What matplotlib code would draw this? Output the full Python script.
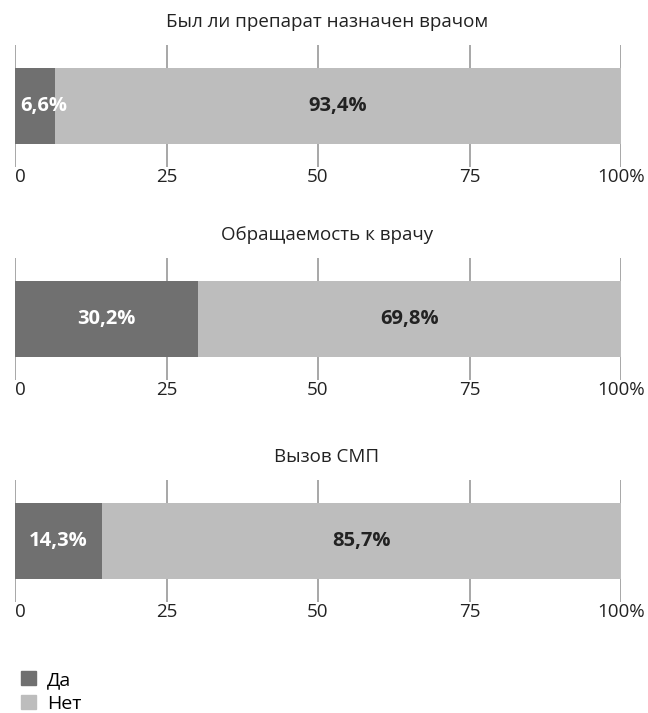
import matplotlib.pyplot as plt
from matplotlib.patches import Patch
from matplotlib import transforms

plt.rcParams['font.family'] = ['Open Sans', 'DejaVu Sans']

titles = ['Был ли препарат назначен врачом', 'Обращаемость к врачу', 'Вызов СМП']
yes_vals = [6.6, 30.2, 14.3]
no_vals = [93.4, 69.8, 85.7]
series_names = ['Да', 'Нет']
ticks = [0, 25, 50, 75, 100]
tick_labels = ['0', '25', '50', '75', '100%']

dark = '#707070'
light = '#bdbdbd'
grid_c = '#a0a0a0'
txt = '#222222'

W, H = 648, 713
fig = plt.figure(figsize=(W / 100, H / 100), dpi=100)

# pixel layout of the three panels (top edge of gridlines)
panel_tops = [45, 258, 480]
panel_h = 122
x0, x1 = 15, 621


def pct(v):
    return f'{v:.1f}%'.replace('.', ',')


for i in range(3):
    top = panel_tops[i]
    ax = fig.add_axes([x0 / W, 1 - (top + panel_h) / H, (x1 - x0) / W, panel_h / H])
    ax.set_xlim(0, 100)
    ax.set_ylim(0, 1)
    for t in ticks:
        ax.axvline(t, color=grid_c, lw=1.3, zorder=0)
    y, wbar = yes_vals[i], no_vals[i]
    ax.barh(0.5, y, height=0.615, left=0, color=dark, zorder=2)
    ax.barh(0.5, wbar, height=0.615, left=y, color=light, zorder=2)
    if y < 10:
        # narrow segment: start the label just inside the bar
        off = transforms.offset_copy(ax.transData, fig=fig, x=5, y=0, units='dots')
        ax.text(0, 0.5, pct(y), transform=off, ha='left', va='center',
                color='white', fontsize=14.5, fontweight='bold', zorder=3)
    else:
        ax.text(y / 2, 0.5, pct(y), ha='center', va='center',
                color='white', fontsize=14.5, fontweight='bold', zorder=3)
    ax.text(y + wbar / 2, 0.5, pct(wbar), ha='center', va='center',
            color=txt, fontsize=14.5, fontweight='bold', zorder=3)
    ax.axis('off')

    # tick labels below the panel
    trans = transforms.blended_transform_factory(ax.transData, ax.transAxes)
    for t, lab in zip(ticks, tick_labels):
        ax.text(t, -0.085, lab, transform=trans, ha='left' if t == 0 else 'center',
                va='center', fontsize=13.5, color=txt)

    fig.text(327 / W, 1 - (top - 23) / H, titles[i], ha='center', va='center',
             fontsize=13.5, color=txt)

handles = [Patch(color=dark), Patch(color=light)]
fig.legend(handles, series_names, loc='upper left', bbox_to_anchor=(21 / W, 1 - 671 / H),
           frameon=False, fontsize=14, handlelength=0.75, handleheight=0.75,
           handletextpad=0.6, labelspacing=0.3, borderpad=0, borderaxespad=0)

fig.savefig('out.png', dpi=100)
